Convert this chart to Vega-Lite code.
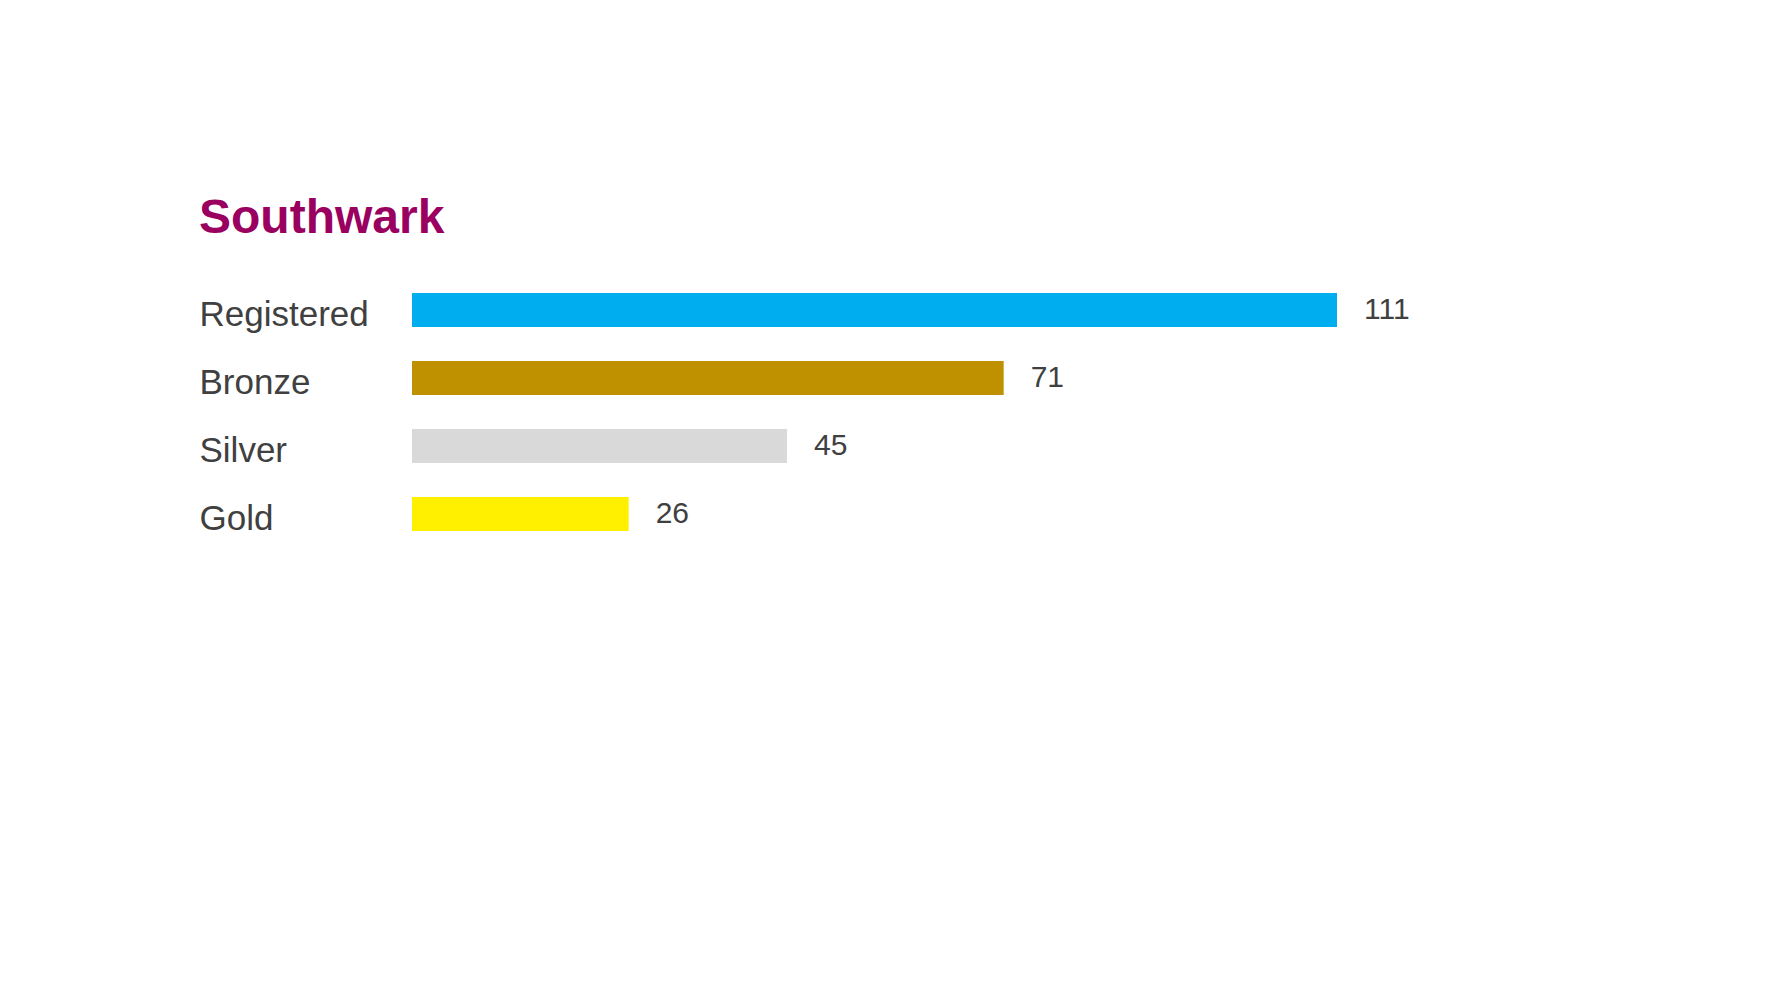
{
  "$schema": "https://vega.github.io/schema/vega-lite/v6.json",
  "autosize": {"type": "none"},
  "width": 925,
  "height": 272,
  "padding": {"left": 412, "top": 276, "right": 433, "bottom": 447},
  "background": "#ffffff",
  "title": {
    "text": "Southwark",
    "anchor": "start",
    "frame": "group",
    "dx": -213,
    "dy": 46,
    "offset": 41,
    "baseline": "alphabetic",
    "font": "Liberation Sans",
    "fontSize": 48,
    "fontWeight": "bold",
    "color": "#9A0060"
  },
  "config": {"view": {"stroke": null}},
  "data": {
    "values": [
      {"category": "Registered", "value": 111, "color": "#00AEEF"},
      {"category": "Bronze", "value": 71, "color": "#BF9000"},
      {"category": "Silver", "value": 45, "color": "#D9D9DA"},
      {"category": "Gold", "value": 26, "color": "#FFF000"}
    ]
  },
  "encoding": {
    "y": {
      "field": "category",
      "type": "nominal",
      "sort": null,
      "scale": {"paddingInner": 0.5, "paddingOuter": 0.25},
      "axis": {
        "title": null,
        "domain": false,
        "ticks": false,
        "tickSize": 0,
        "labelAlign": "left",
        "labelPadding": 213,
        "labelBaseline": "alphabetic",
        "labelOffset": 16,
        "labelFont": "Liberation Sans",
        "labelFontSize": 35,
        "labelColor": "#404040"
      }
    },
    "x": {
      "field": "value",
      "type": "quantitative",
      "scale": {"domain": [0, 111], "nice": false},
      "axis": null
    }
  },
  "layer": [
    {
      "mark": {"type": "bar"},
      "encoding": {
        "color": {"field": "color", "type": "nominal", "scale": null}
      }
    },
    {
      "mark": {
        "type": "text",
        "align": "left",
        "baseline": "alphabetic",
        "dx": 27,
        "dy": 9,
        "font": "Liberation Sans",
        "fontSize": 30,
        "color": "#404040"
      },
      "encoding": {
        "text": {"field": "value", "type": "quantitative"}
      }
    }
  ]
}
